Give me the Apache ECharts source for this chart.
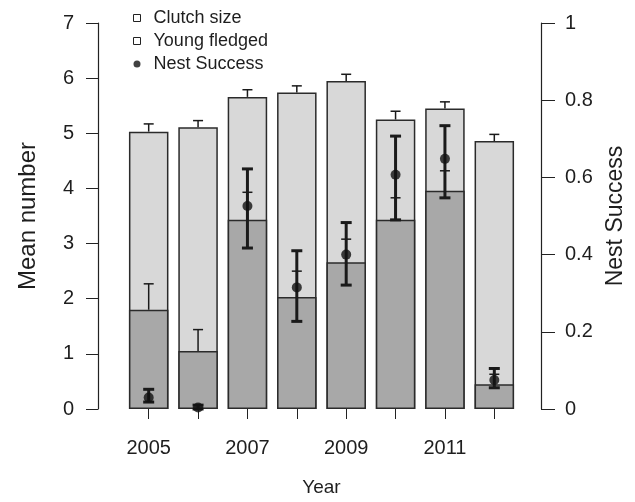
<!DOCTYPE html>
<html>
<head>
<meta charset="utf-8">
<script src="https://cdn.jsdelivr.net/npm/echarts@6/dist/echarts.min.js"></script>
<style>html,body{margin:0;padding:0;background:#fff}#c{width:635px;height:502px}</style>
</head>
<body>
<div id="c"></div>
<script>
var years = ['2005','2006','2007','2008','2009','2010','2011','2012'];
var clutchSize = [5.03, 5.11, 5.66, 5.74, 5.95, 5.25, 5.45, 4.86];
var clutchUpper = [5.17, 5.23, 5.79, 5.86, 6.07, 5.40, 5.57, 4.98];
var youngFledged = [1.80, 1.05, 3.43, 2.03, 2.66, 3.43, 3.96, 0.45];
var youngUpper = [2.27, 1.44, 3.93, 2.50, 3.08, 3.83, 4.32, 0.63];
var nestSuccess = [0.030, 0.004, 0.526, 0.315, 0.400, 0.607, 0.648, 0.075];
var nestLow = [0.018, 0.000, 0.417, 0.227, 0.321, 0.490, 0.547, 0.055];
var nestHigh = [0.051, 0.010, 0.622, 0.410, 0.483, 0.707, 0.734, 0.105];
var yLeftTicks = [0, 1, 2, 3, 4, 5, 6, 7];
var yRightTicks = [0, 0.2, 0.4, 0.6, 0.8, 1];

var FONT = 'Liberation Sans, Arial, sans-serif';
var TXT = '#1e1e1e';

function errTriples(low, high) {
  return low.map(function (l, i) { return [i, l, high[i]]; });
}

function errorRenderer(lineW, capW) {
  return function (params, api) {
    var x = api.value(0);
    var p1 = api.coord([x, api.value(1)]);
    var p2 = api.coord([x, api.value(2)]);
    var style = { stroke: '#1a1a1a', lineWidth: lineW, fill: null };
    var children = [
      { type: 'line', shape: { x1: p1[0], y1: p1[1], x2: p2[0], y2: p2[1] }, style: style },
      { type: 'line', shape: { x1: p2[0] - capW / 2, y1: p2[1], x2: p2[0] + capW / 2, y2: p2[1] }, style: style }
    ];
    if (params.seriesName === 'nestErr') {
      children.push({ type: 'line', shape: { x1: p1[0] - capW / 2, y1: p1[1], x2: p1[0] + capW / 2, y2: p1[1] }, style: style });
    }
    return { type: 'group', children: children };
  };
}

var chart = echarts.init(document.getElementById('c'), null, { renderer: 'canvas' });
chart.setOption({
  animation: false,
  backgroundColor: '#fff',
  textStyle: { fontFamily: FONT },
  grid: { left: 124, right: 111, top: 23, bottom: 87.5 },
  legend: {
    orient: 'vertical',
    left: 128,
    top: 4,
    itemWidth: 7,
    itemHeight: 7,
    itemGap: 5,
    textStyle: { fontSize: 18, color: TXT, fontFamily: FONT, lineHeight: 18, padding: [0, 0, 0, 8] },
    data: [
      { name: 'Clutch size', icon: 'rect', itemStyle: { color: '#fff', borderColor: '#222', borderWidth: 1 } },
      { name: 'Young fledged', icon: 'rect', itemStyle: { color: '#fff', borderColor: '#222', borderWidth: 1 } },
      { name: 'Nest Success', icon: 'circle', itemStyle: { color: '#111' } }
    ]
  },
  xAxis: {
    type: 'category',
    data: years,
    boundaryGap: true,
    offset: 2,
    name: 'Year',
    nameLocation: 'middle',
    nameGap: 67,
    nameTextStyle: { fontSize: 19, color: TXT, fontFamily: FONT },
    axisLine: { show: false },
    axisTick: { show: true, alignWithLabel: true, interval: 0, length: 10, lineStyle: { color: '#222', width: 1 } },
    axisLabel: { interval: 1, margin: 27, fontSize: 20, color: TXT, fontFamily: FONT },
    splitLine: { show: false }
  },
  yAxis: [
    {
      type: 'value', min: 0, max: 7, interval: 1, position: 'left', offset: 26,
      name: 'Mean number', nameLocation: 'middle', nameGap: 58, nameRotate: 90,
      nameTextStyle: { fontSize: 24, color: TXT, fontFamily: FONT },
      axisLine: { show: true, lineStyle: { color: '#222', width: 1.2 } },
      axisTick: { show: true, length: 12, lineStyle: { color: '#222', width: 1 } },
      axisLabel: { margin: 24, fontSize: 20, color: TXT, fontFamily: FONT,
        formatter: function (v) { return yLeftTicks.indexOf(v) >= 0 ? String(v) : ''; } },
      splitLine: { show: false }
    },
    {
      type: 'value', min: 0, max: 1, interval: 0.2, position: 'right', offset: 22,
      name: 'Nest Success', nameLocation: 'middle', nameGap: 63, nameRotate: 90,
      nameTextStyle: { fontSize: 23, color: TXT, fontFamily: FONT },
      axisLine: { show: true, lineStyle: { color: '#222', width: 1.2 } },
      axisTick: { show: true, length: 14, lineStyle: { color: '#222', width: 1 } },
      axisLabel: { margin: 24, fontSize: 20, color: TXT, fontFamily: FONT,
        formatter: function (v) {
          var r = Math.round(v * 10) / 10;
          if (yRightTicks.indexOf(r) < 0) return '';
          return (r === 0 || r === 1) ? String(r) : r.toFixed(1);
        } },
      splitLine: { show: false }
    }
  ],
  series: [
    {
      name: 'Clutch size', type: 'bar', data: clutchSize, barWidth: '80%', z: 1,
      itemStyle: { color: '#d8d8d8', borderColor: '#2b2b2b', borderWidth: 1.5 }
    },
    {
      name: 'Young fledged', type: 'bar', data: youngFledged, barWidth: '80%', barGap: '-100%', z: 2,
      itemStyle: { color: '#a8a8a8', borderColor: '#2b2b2b', borderWidth: 1.5 }
    },
    {
      name: 'clutchErr', type: 'custom', z: 3,
      data: errTriples(clutchSize, clutchUpper),
      renderItem: errorRenderer(1.5, 10),
      encode: { x: 0, y: [1, 2] }
    },
    {
      name: 'youngErr', type: 'custom', z: 3,
      data: errTriples(youngFledged, youngUpper),
      renderItem: errorRenderer(1.5, 10),
      encode: { x: 0, y: [1, 2] }
    },
    {
      name: 'nestErr', type: 'custom', yAxisIndex: 1, z: 4,
      data: errTriples(nestLow, nestHigh),
      renderItem: errorRenderer(3, 11),
      encode: { x: 0, y: [1, 2] }
    },
    {
      name: 'Nest Success', type: 'scatter', yAxisIndex: 1, z: 5,
      data: nestSuccess, symbol: 'circle', symbolSize: 10,
      itemStyle: { color: '#111' }
    }
  ]
});
</script>
</body>
</html>
